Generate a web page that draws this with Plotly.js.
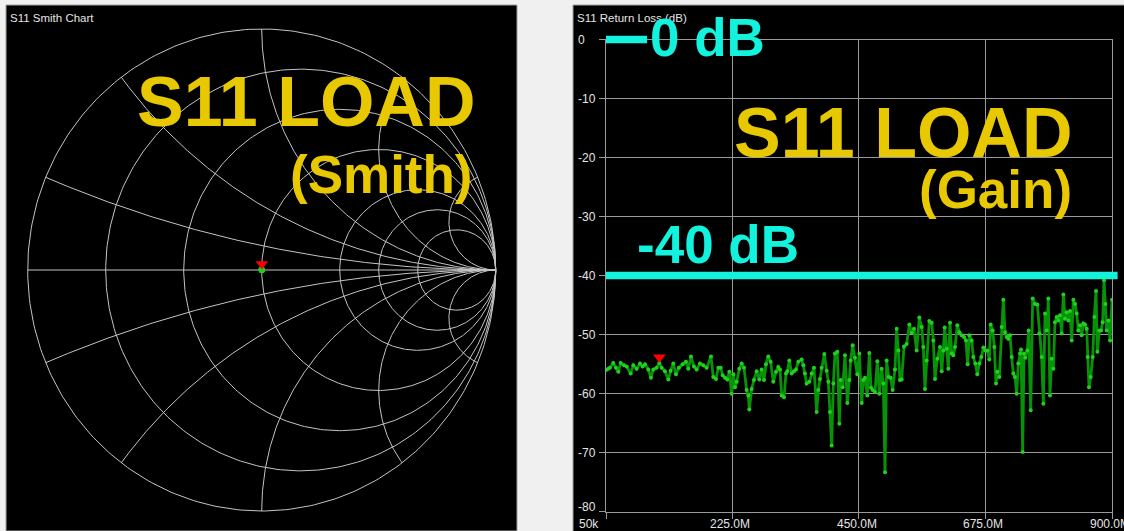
<!DOCTYPE html>
<html><head><meta charset="utf-8">
<script src="https://cdn.plot.ly/plotly-3.0.1.min.js"></script>
<style>html,body{margin:0;padding:0;background:#f0f0f0;overflow:hidden}#chart{width:1124px;height:531px}</style>
</head><body><div id="chart"></div>
<script>
// ---------------- DATA ----------------
const freqMHz = [0.05,4.1,7.1,13.0,17.8,21.9,26.1,32.0,36.8,43.9,48.6,54.5,60.5,65.2,69.4,75.3,80.0,84.2,90.1,94.9,
99.0,104.9,110.9,115.0,119.8,124.5,129.8,136.4,142.3,146.4,151.2,156.5,161.3,167.2,173.1,179.1,186.8,190.9,195.7,199.8,
204.0,207.5,211.7,215.8,219.4,223.5,226.5,229.5,232.4,237.2,241.3,245.5,250.2,253.2,254.9,259.1,263.2,268.0,272.7,276.9,
281.0,284.6,288.7,292.9,297.6,302.4,306.5,309.5,312.5,316.6,320.2,322.5,326.1,330.2,334.4,338.0,342.1,348.0,351.0,354.0,
356.9,361.7,365.8,370.0,374.7,377.7,380.6,383.6,388.3,392.5,395.5,398.4,401.4,404.4,407.3,411.5,415.0,417.4,421.0,425.1,
429.3,432.8,435.2,438.8,442.9,447.0,450.6,454.8,457.7,460.7,464.8,468.4,471.4,474.3,478.5,482.6,486.2,490.3,493.3,496.3,
499.2,502.8,506.3,509.9,514.0,517.0,520.0,522.9,525.9,530.1,534.8,539.5,543.7,547.8,552.6,557.3,561.5,564.4,567.4,570.4,
575.1,579.3,582.2,585.2,589.3,594.1,597.1,600.0,602.4,605.9,608.9,611.9,614.8,617.8,620.8,624.9,628.5,632.6,636.8,640.3,
643.3,646.3,650.4,653.4,656.9,660.5,664.0,667.6,671.2,674.7,678.3,681.8,684.2,687.8,690.7,693.7,696.1,699.6,703.8,706.7,
709.7,712.7,715.6,718.6,721.6,724.5,727.5,730.5,733.4,736.4,738.2,741.1,743.5,745.9,749.4,751.8,755.4,758.9,763.1,767.2,
770.8,774.9,777.9,780.9,783.8,786.8,789.7,792.7,795.7,798.6,801.6,804.6,807.5,810.5,813.5,816.4,819.4,822.4,825.3,828.3,
831.3,834.2,837.2,840.1,843.1,846.1,849.0,852.0,855.0,856.8,859.1,862.1,865.7,868.6,871.6,874.0,877.5,880.5,883.4,885.8,
888.2,890.5,893.5,896.5,900.0];
const returnLossDb = [-56.0,-55.8,-55.6,-54.8,-55.6,-56.3,-54.8,-55.2,-55.4,-56.6,-55.2,-55.8,-54.9,-55.4,-55.0,-55.9,-57.3,-55.9,-55.6,-54.8,
-55.6,-56.2,-57.6,-56.1,-54.9,-56.7,-55.6,-55.0,-54.6,-55.8,-53.7,-55.4,-55.9,-54.9,-55.2,-55.6,-53.7,-57.2,-57.5,-55.6,
-55.6,-56.9,-57.3,-57.6,-56.3,-60.0,-56.7,-58.9,-58.0,-55.8,-54.9,-55.6,-59.4,-60.3,-62.7,-59.2,-57.7,-56.2,-57.6,-55.9,
-57.7,-55.0,-53.7,-54.6,-58.0,-56.3,-55.5,-55.9,-60.3,-60.6,-56.6,-56.2,-54.4,-56.6,-56.2,-55.9,-54.6,-54.2,-55.2,-56.6,
-58.3,-58.0,-56.6,-55.6,-63.1,-59.4,-57.5,-55.6,-53.3,-56.1,-58.0,-63.1,-68.8,-58.3,-53.2,-52.9,-65.1,-57.7,-58.9,-53.5,
-61.6,-57.7,-54.4,-51.8,-53.9,-56.7,-53.2,-61.6,-57.7,-57.3,-60.3,-53.1,-59.0,-59.4,-59.7,-54.5,-60.0,-55.8,-58.3,-73.3,
-54.4,-57.2,-57.3,-59.4,-55.9,-49.0,-52.7,-57.7,-57.6,-52.0,-51.6,-48.3,-49.7,-49.0,-52.7,-47.1,-48.7,-52.1,-59.2,-54.4,
-47.7,-48.0,-51.0,-57.5,-54.1,-52.1,-56.2,-52.7,-48.8,-52.4,-55.8,-48.0,-53.2,-53.5,-52.1,-48.4,-49.6,-50.1,-50.4,-51.0,
-55.0,-50.1,-51.0,-53.8,-54.9,-56.7,-54.9,-53.8,-52.2,-52.7,-52.7,-54.2,-48.3,-49.3,-52.1,-58.3,-56.3,-57.2,-48.7,-44.1,
-49.6,-50.4,-50.7,-50.1,-53.8,-56.6,-57.2,-60.0,-54.9,-53.2,-52.5,-69.9,-53.2,-53.9,-52.7,-49.3,-62.8,-43.9,-44.8,-44.9,
-49.8,-53.8,-61.7,-46.4,-49.3,-43.9,-60.3,-54.1,-55.8,-47.9,-47.0,-47.6,-46.7,-49.8,-43.2,-47.3,-46.2,-47.6,-46.0,-51.0,
-44.1,-44.8,-46.4,-49.3,-48.4,-50.1,-48.1,-48.3,-49.0,-53.8,-58.9,-57.2,-53.8,-47.0,-42.6,-52.9,-49.3,-49.3,-47.9,-40.8,
-44.8,-49.3,-47.6,-51.0,-44.1];
const markerIndex = 19;                       // marker 1 position in the sweep
const yTickVals = [0,-10,-20,-30,-40,-50,-60,-70,-80];
const yTickText = ['0','-10','-20','-30','-40','-50','-60','-70','-80'];
const xTickValsMHz = [0.05,225,450,675,900];
const xTickText = ['50k','225.0M','450.0M','675.0M','900.0M'];
const refLevelsDb = [0,-40];
const refLabels = ['0 dB','-40 dB'];
// Smith chart: measured reflection coefficient (tiny, load ~ matched)
const smithRe = [0.0010,-0.0008,0.0006,0.0014,-0.0011,0.0003];
const smithIm = [-0.0009,0.0006,0.0012,-0.0004,-0.0002,0.0010];
// Smith grid values
const smithR = [0,0.2,0.5,1,2,3,5];
const smithX = [0.2,0.5,1,2,5];

// ---------------- LAYOUT GEOMETRY ----------------
const W = 1124, H = 531;
const px = v => v / W, py = v => 1 - v / H;
const leftPanel = {x0:6, x1:517, y0:5, y1:531};
const rightPanel = {x0:573, x1:1124, y0:5, y1:531};
const rlPlot = {x0:606, x1:1112, y0:39.5, y1:511.7};
const sc = {cx:261.7, cy:270, rx:234, ry:241};

const FONT = 'Liberation Sans, Arial, sans-serif';
const gridSmith = '#c4c4c4';
const gridRL = '#9a9a9a';
const textCol = '#e4e4e4';
const yellow = '#e8c800';
const cyan = '#12f2dc';

const traces = [];
function addLine(xs, ys) {
  traces.push({type:'scatter', mode:'lines', x:xs, y:ys, xaxis:'x', yaxis:'y',
    line:{color:gridSmith, width:1}, hoverinfo:'skip', showlegend:false});
}
smithR.forEach(r => {
  const c = r/(1+r), rad = 1/(1+r), xs=[], ys=[];
  for (let i=0;i<=360;i++){const t=i*Math.PI/180; xs.push(c+rad*Math.cos(t)); ys.push(rad*Math.sin(t));}
  addLine(xs, ys);
});
addLine([-1,1],[0,0]);
smithX.forEach(xv => {
  [1,-1].forEach(sg => {
    const cy = 1/xv, rad = 1/xv;
    const Px = (xv*xv-1)/(xv*xv+1), Py = 2*xv/(xv*xv+1);
    let tEnd = Math.atan2(Py-cy, Px-1);
    while (tEnd > -Math.PI/2) tEnd -= 2*Math.PI;
    const xs=[], ys=[], n=200;
    for (let i=0;i<=n;i++){const t=-Math.PI/2+(tEnd+Math.PI/2)*i/n; xs.push(1+rad*Math.cos(t)); ys.push(sg*(cy+rad*Math.sin(t)));}
    addLine(xs, ys);
  });
});
traces.push({type:'scatter', mode:'lines+markers', x:smithRe, y:smithIm, xaxis:'x', yaxis:'y',
  line:{color:'#10a010', width:2}, marker:{color:'#22cc22', size:6}, hoverinfo:'skip', showlegend:false});
traces.push({type:'scatter', mode:'markers', x:[smithRe[0]], y:[smithIm[0]+0.026], xaxis:'x', yaxis:'y',
  marker:{symbol:'triangle-down', color:'#ff0000', size:11, line:{width:0}}, hoverinfo:'skip', showlegend:false});

const freqHz = freqMHz.map(f => f*1e6);
traces.push({type:'scatter', mode:'lines+markers', x:freqHz, y:returnLossDb, xaxis:'x2', yaxis:'y2',
  line:{color:'#079307', width:2.8}, marker:{color:'#1fd01f', size:4}, hoverinfo:'skip', showlegend:false});
traces.push({type:'scatter', mode:'markers', x:[freqHz[markerIndex]], y:[returnLossDb[markerIndex]+0.95], xaxis:'x2', yaxis:'y2',
  marker:{symbol:'triangle-down', color:'#ff0000', size:11, line:{width:0}}, hoverinfo:'skip', showlegend:false});

const xMin = xTickValsMHz[0]*1e6, xMax = xTickValsMHz[xTickValsMHz.length-1]*1e6;
const yMin = yTickVals[yTickVals.length-1], yMax = yTickVals[0];
const ppx = (xMax-xMin)/(rlPlot.x1-rlPlot.x0);
const ppy = (yMax-yMin)/(rlPlot.y1-rlPlot.y0);
const x3Range = [xMin-(rlPlot.x0-rightPanel.x0)*ppx, xMax+(rightPanel.x1-rlPlot.x1)*ppx];
const y3Range = [yMin-(rightPanel.y1-rlPlot.y1)*ppy, yMax+(rlPlot.y0-rightPanel.y0)*ppy];
const refSpanPx = [41, 511.6];
refLevelsDb.forEach((lv,i) => {
  traces.push({type:'scatter', mode:'lines', x:[xMin, xMin+refSpanPx[i]*ppx], y:[lv,lv], xaxis:'x3', yaxis:'y3',
    line:{color:cyan, width:7.5}, hoverinfo:'skip', showlegend:false});
});

const ann = [];
ann.push({text:'S11 Smith Chart', xref:'paper', yref:'paper', x:px(8), y:py(18), xanchor:'left', yanchor:'middle',
  showarrow:false, font:{family:FONT, size:11.5, color:textCol}});
ann.push({text:'S11 Return Loss (dB)', xref:'paper', yref:'paper', x:px(575), y:py(18), xanchor:'left', yanchor:'middle',
  showarrow:false, font:{family:FONT, size:11.5, color:textCol}});
yTickVals.forEach((v,i) => {
  ann.push({text:yTickText[i], xref:'paper', yref:'y2', x:px(576), y:v, xanchor:'left', yanchor:'middle',
    yshift: (i===yTickVals.length-1)?5:0, showarrow:false, font:{family:FONT, size:12, color:textCol}});
});
xTickValsMHz.forEach((v,i) => {
  ann.push({text:xTickText[i], xref:'x2', yref:'paper', x:v*1e6, y:py(524), xanchor: i===0?'right':'center',
    xshift: i===0?-5:-2, yanchor:'middle', showarrow:false, font:{family:FONT, size:12, color:textCol}});
});
function big(text, cx, cy, size, color){
  ann.push({text:text, xref:'paper', yref:'paper', x:px(cx), y:py(cy), xanchor:'center', yanchor:'middle',
    showarrow:false, font:{family:FONT, size:size, color:color, weight:'bold'}});
}
big('S11 LOAD', 305.5, 102, 70, yellow);
big('(Smith)', 381.5, 174, 53, yellow);
big('S11 LOAD', 902.5, 133, 70, yellow);
big('(Gain)', 995, 190, 53, yellow);
big(refLabels[0], 707.5, 37, 53, cyan);
big(refLabels[1], 717.5, 245, 53, cyan);

const layout = {
  width:W, height:H, margin:{l:0,r:0,t:0,b:0},
  paper_bgcolor:'#f0f0f0', plot_bgcolor:'rgba(0,0,0,0)', showlegend:false,
  xaxis:{domain:[px(leftPanel.x0), px(leftPanel.x1)], range:[(leftPanel.x0-sc.cx)/sc.rx, (leftPanel.x1-sc.cx)/sc.rx],
    visible:false, fixedrange:true},
  yaxis:{domain:[py(leftPanel.y1), py(leftPanel.y0)], range:[(sc.cy-leftPanel.y1)/sc.ry, (sc.cy-leftPanel.y0)/sc.ry],
    visible:false, fixedrange:true},
  xaxis2:{domain:[px(rlPlot.x0), px(rlPlot.x1)], range:[xMin,xMax], tickvals:xTickValsMHz.map(v=>v*1e6),
    showticklabels:false, showgrid:true, gridcolor:gridRL, gridwidth:1, zeroline:false,
    ticks:'outside', ticklen:6, tickcolor:gridRL, showline:true, linecolor:gridRL, mirror:true, fixedrange:true, anchor:'y2'},
  yaxis2:{domain:[py(rlPlot.y1), py(rlPlot.y0)], range:[yMin,yMax], tickvals:yTickVals,
    showticklabels:false, showgrid:true, gridcolor:gridRL, gridwidth:1, zeroline:false,
    ticks:'outside', ticklen:6, tickcolor:gridRL, showline:true, linecolor:gridRL, mirror:true, fixedrange:true, anchor:'x2'},
  xaxis3:{domain:[px(rightPanel.x0), px(rightPanel.x1)], range:x3Range, visible:false, fixedrange:true, anchor:'y3'},
  yaxis3:{domain:[py(rightPanel.y1), py(rightPanel.y0)], range:y3Range, visible:false, fixedrange:true, anchor:'x3'},
  shapes:[
    {type:'rect', xref:'paper', yref:'paper', x0:px(leftPanel.x0), x1:px(leftPanel.x1), y0:py(leftPanel.y1), y1:py(leftPanel.y0),
      fillcolor:'#000000', line:{color:'#a0a0a0', width:1}, layer:'below'},
    {type:'rect', xref:'paper', yref:'paper', x0:px(rightPanel.x0), x1:px(rightPanel.x1)+0.01, y0:py(rightPanel.y1)-0.01, y1:py(rightPanel.y0),
      fillcolor:'#000000', line:{color:'#a0a0a0', width:1}, layer:'below'}
  ],
  annotations: ann
};
Plotly.newPlot('chart', traces, layout, {displayModeBar:false, staticPlot:true});
</script>
</body></html>
